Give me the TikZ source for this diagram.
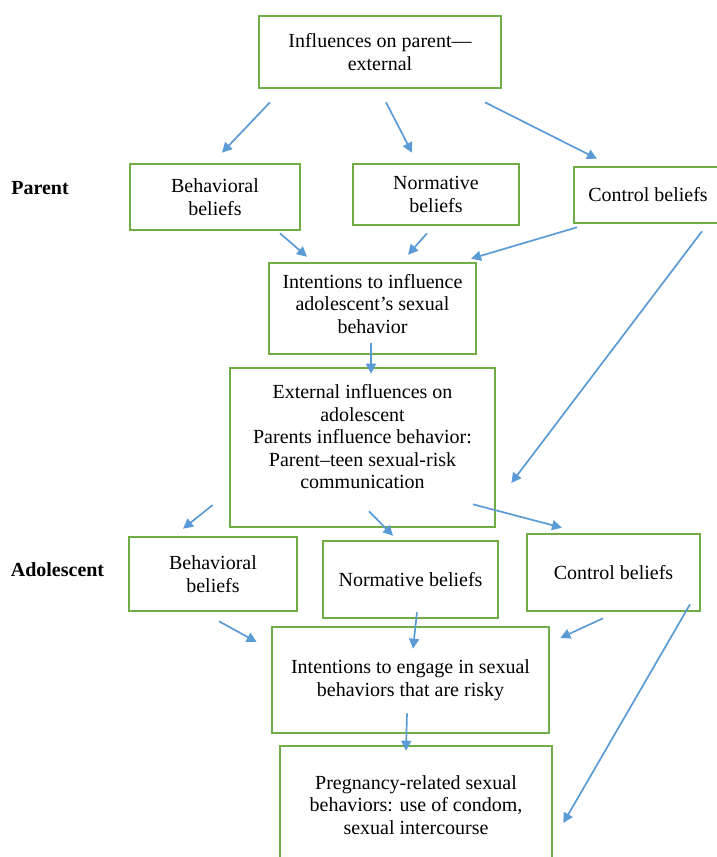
\documentclass[tikz,border=0pt]{standalone}
\usepackage{fontspec}
\setmainfont{Liberation Serif}
\usetikzlibrary{arrows.meta}
\definecolor{boxgreen}{HTML}{70AD47}
\definecolor{flowblue}{HTML}{5B9BD5}

\begin{document}
\begin{tikzpicture}[
		x=0.5pt, y=-0.5pt,
		every node/.style={font=\fontsize{10}{11.25}\selectfont, align=center},
		box/.style={draw=boxgreen, line width=1.3pt, inner sep=0pt},
		flow/.style={draw=flowblue, line width=0.85pt, -{Triangle[length=5pt, width=5pt]}},
		group label/.style={font=\fontsize{10}{11.25}\selectfont\bfseries}
		]
	
	\useasboundingbox (0, 0) rectangle (717, 857);
	\clip (0, 0) rectangle (717, 857);
	
	% External influences on the parent
	\node[box, minimum width=121pt, minimum height=36pt] (top) at (380, 52) {Influences on parent—\\external};
	
	% Parent
	\node[group label] (parent) at (40, 188) {Parent};
	\node[box, minimum width=85pt, minimum height=33pt] (pbeh) at (215, 197) {Behavioral\\beliefs};
	\node[box, minimum width=83pt, minimum height=30.5pt] (pnorm) at (436, 194.5) {Normative\\beliefs};
	\node[box, minimum width=74pt, minimum height=28pt] (pctrl) at (648, 195) {Control beliefs};
	
	\node[box, minimum width=103.5pt, minimum height=45.5pt] (pint) at (372.5, 308.5) {};
	\node (pint text) at (372.5, 304) {Intentions to influence\\adolescent’s sexual\\behavior};
	
	% Parent to adolescent
	\node[box, minimum width=132.5pt, minimum height=79.5pt] (ext) at (362.5, 447.5) {};
	\node (ext text) at (362.5, 437) {External influences on\\adolescent\\Parents influence behavior:\\Parent–teen sexual-risk\\communication};
	
	% Adolescent
	\node[group label] (adol) at (57.5, 570) {Adolescent};
	\node[box, minimum width=84pt, minimum height=37pt] (abeh) at (213, 574) {Behavioral\\beliefs};
	\node[box, minimum width=87.5pt, minimum height=38.5pt] (anorm) at (410.5, 579.5) {Normative beliefs};
	\node[box, minimum width=86.5pt, minimum height=38.5pt] (actrl) at (613.5, 572.5) {Control beliefs};
	
	\node[box, minimum width=138.5pt, minimum height=53pt] (aint) at (410.5, 680) {Intentions to engage in sexual\\behaviors that are risky};
	\node[box, minimum width=136pt, minimum height=59pt] (preg) at (416, 805) {Pregnancy-related sexual\\behaviors: use of condom,\\sexual intercourse};
	
	% Arrows, parent level
	\draw[flow] ([shift={(-110, 13)}]top.south) -- ([shift={(7, -10)}]pbeh.north);
	\draw[flow] ([shift={(6, 13)}]top.south) -- ([shift={(-24, -10)}]pnorm.north);
	\draw[flow] ([shift={(105, 13)}]top.south) -- ([shift={(-51, -7)}]pctrl.north);
	
	\draw[flow] ([shift={(65, 2)}]pbeh.south) -- ([shift={(-65.5, -5)}]pint.north);
	\draw[flow] ([shift={(-9, 7)}]pnorm.south) -- ([shift={(35.5, -7)}]pint.north);
	\draw[flow] ([shift={(-71, 3)}]pctrl.south) -- ([shift={(98.5, -3)}]pint.north);
	\draw[flow] ([shift={(54, 7)}]pctrl.south) -- ([shift={(15, 35.5)}]ext.east);
	
	\draw[flow] ([shift={(-1.5, -12)}]pint.south) -- ([shift={(8.5, 7)}]ext.north);
	
	% Arrows, adolescent level
	\draw[flow] ([shift={(-16, 57.5)}]ext.west) -- ([shift={(-30, -7)}]abeh.north);
	\draw[flow] ([shift={(6.5, -17)}]ext.south) -- ([shift={(-17.5, -4)}]anorm.north);
	\draw[flow] ([shift={(110.5, -24)}]ext.south) -- ([shift={(-51.5, -5)}]actrl.north);
	
	\draw[flow] ([shift={(6, 9)}]abeh.south) -- ([shift={(-14, -38)}]aint.west);
	\draw[flow] ([shift={(6.5, -7)}]anorm.south) -- ([shift={(2.5, 23)}]aint.north);
	\draw[flow] ([shift={(-10.5, 6)}]actrl.south) -- ([shift={(10, -42)}]aint.east);
	\draw[flow] ([shift={(76.5, -8)}]actrl.south) -- ([shift={(10, 18)}]preg.east);
	
	\draw[flow] ([shift={(-3.5, -21)}]aint.south) -- ([shift={(-10, 6)}]preg.north);
	
\end{tikzpicture}
\end{document}
